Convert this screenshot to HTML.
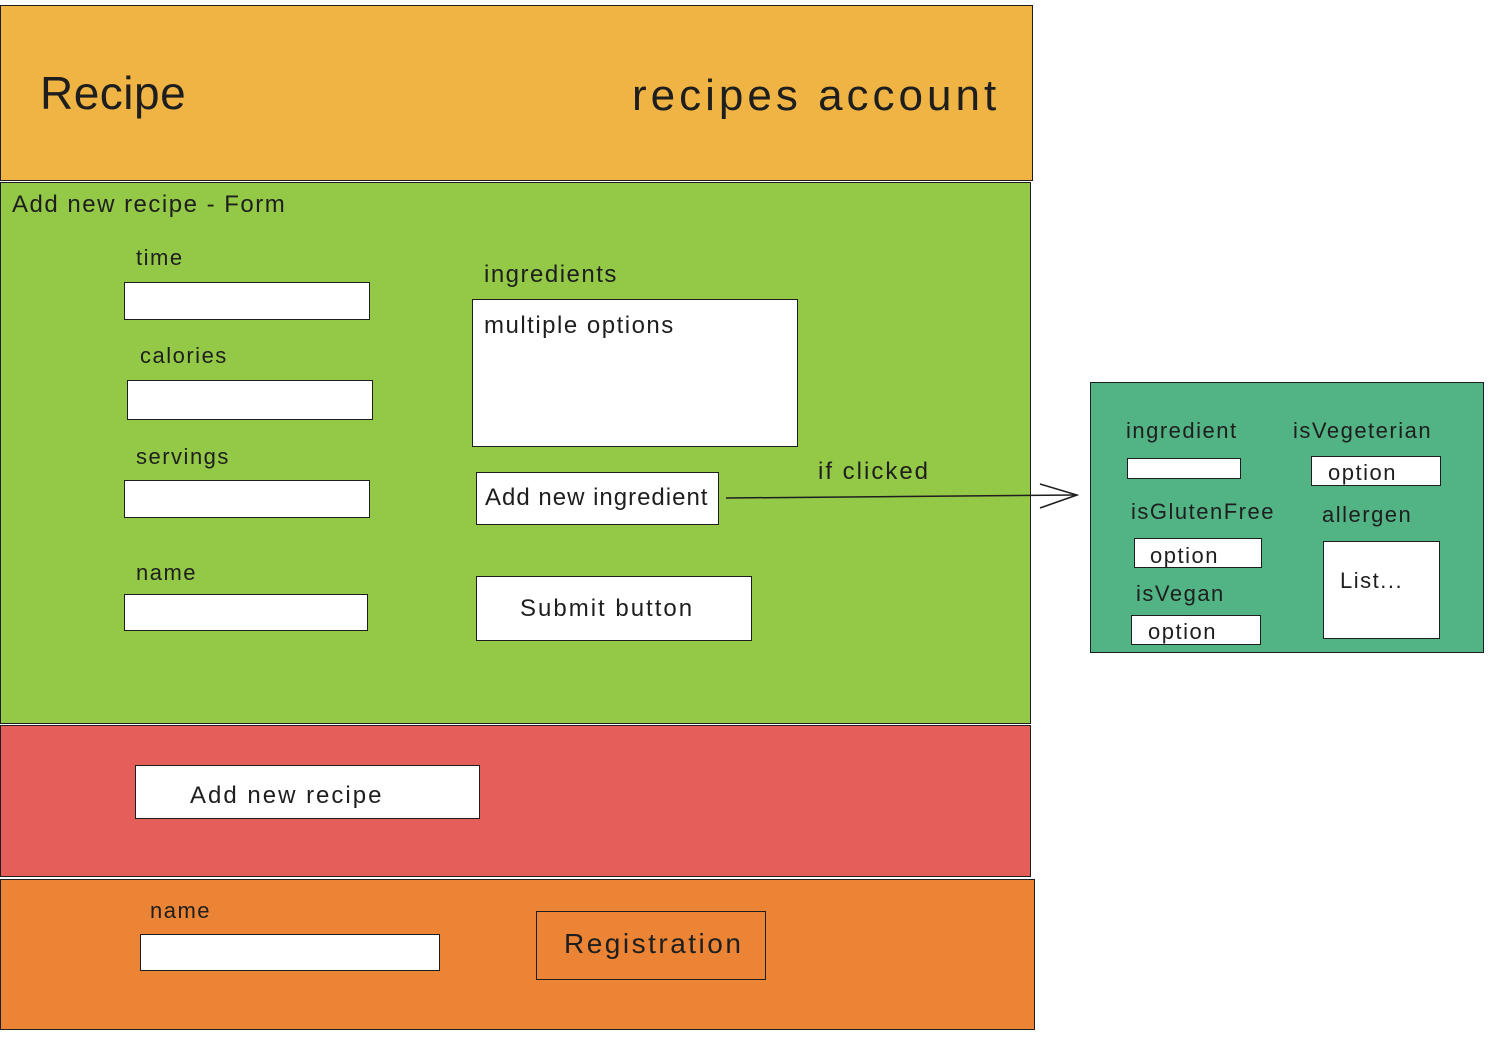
<!DOCTYPE html>
<html><head><meta charset="utf-8"><style>
body{margin:0;width:1494px;height:1037px;background:#fff;position:relative;overflow:hidden;font-family:"Liberation Sans",sans-serif;color:#1e1e1e}
.b{position:absolute;box-sizing:border-box;border:1.5px solid #1e1e1e}
.t{position:absolute;white-space:nowrap;line-height:1;letter-spacing:1.5px}
.w{background:#fff}
</style></head><body>
<div class="b" style="left:0;top:5px;width:1033px;height:176px;background:#EFB443"></div>
<div class="t" style="left:40px;top:70px;font-size:46px;letter-spacing:0.5px">Recipe</div>
<div class="t" style="left:632px;top:74px;font-size:44px;letter-spacing:4px">recipes account</div>

<div class="b" style="left:0;top:182px;width:1031px;height:542px;background:#93C947"></div>
<div class="t" style="left:12px;top:193px;font-size:24px">Add new recipe - Form</div>
<div class="t" style="left:136px;top:247px;font-size:22px">time</div>
<div class="b w" style="left:124px;top:282px;width:246px;height:38px"></div>
<div class="t" style="left:140px;top:345px;font-size:22px">calories</div>
<div class="b w" style="left:127px;top:380px;width:246px;height:40px"></div>
<div class="t" style="left:136px;top:446px;font-size:22px">servings</div>
<div class="b w" style="left:124px;top:480px;width:246px;height:38px"></div>
<div class="t" style="left:136px;top:562px;font-size:22px">name</div>
<div class="b w" style="left:124px;top:594px;width:244px;height:37px"></div>
<div class="t" style="left:484px;top:263px;font-size:24px">ingredients</div>
<div class="b w" style="left:472px;top:299px;width:326px;height:148px"></div>
<div class="t" style="left:484px;top:314px;font-size:24px">multiple options</div>
<div class="b w" style="left:476px;top:472px;width:243px;height:53px"></div>
<div class="t" style="left:485px;top:486px;font-size:24px;letter-spacing:1px">Add new ingredient</div>
<div class="b w" style="left:476px;top:576px;width:276px;height:65px"></div>
<div class="t" style="left:520px;top:597px;font-size:24px;letter-spacing:2px">Submit button</div>
<div class="t" style="left:818px;top:460px;font-size:24px;letter-spacing:2px">if clicked</div>

<div class="b" style="left:0;top:725px;width:1031px;height:152px;background:#E45F59"></div>
<div class="b w" style="left:135px;top:765px;width:345px;height:54px"></div>
<div class="t" style="left:190px;top:784px;font-size:24px;letter-spacing:2px">Add new recipe</div>

<div class="b" style="left:0;top:879px;width:1035px;height:151px;background:#EC8435"></div>
<div class="t" style="left:150px;top:900px;font-size:22px">name</div>
<div class="b w" style="left:140px;top:934px;width:300px;height:37px"></div>
<div class="b" style="left:536px;top:911px;width:230px;height:69px"></div>
<div class="t" style="left:564px;top:930px;font-size:28px;letter-spacing:2.5px">Registration</div>

<svg style="position:absolute;left:0;top:0" width="1494" height="1037">
<path d="M726 498 L1075 495" stroke="#1e1e1e" stroke-width="1.5" fill="none"/>
<path d="M1040 484 L1077 495 L1040 508" stroke="#1e1e1e" stroke-width="1.5" fill="none"/>
</svg>

<div class="b" style="left:1090px;top:382px;width:394px;height:271px;background:#52B385"></div>
<div class="t" style="left:1126px;top:420px;font-size:22px">ingredient</div>
<div class="t" style="left:1293px;top:420px;font-size:22px">isVegeterian</div>
<div class="b w" style="left:1127px;top:458px;width:114px;height:21px"></div>
<div class="b w" style="left:1311px;top:456px;width:130px;height:30px"></div>
<div class="t" style="left:1328px;top:462px;font-size:22px">option</div>
<div class="t" style="left:1131px;top:501px;font-size:22px">isGlutenFree</div>
<div class="t" style="left:1322px;top:504px;font-size:22px">allergen</div>
<div class="b w" style="left:1134px;top:538px;width:128px;height:30px"></div>
<div class="t" style="left:1150px;top:545px;font-size:22px">option</div>
<div class="b w" style="left:1323px;top:541px;width:117px;height:98px"></div>
<div class="t" style="left:1340px;top:570px;font-size:22px">List...</div>
<div class="t" style="left:1136px;top:583px;font-size:22px">isVegan</div>
<div class="b w" style="left:1131px;top:615px;width:130px;height:30px"></div>
<div class="t" style="left:1148px;top:621px;font-size:22px">option</div>
</body></html>
